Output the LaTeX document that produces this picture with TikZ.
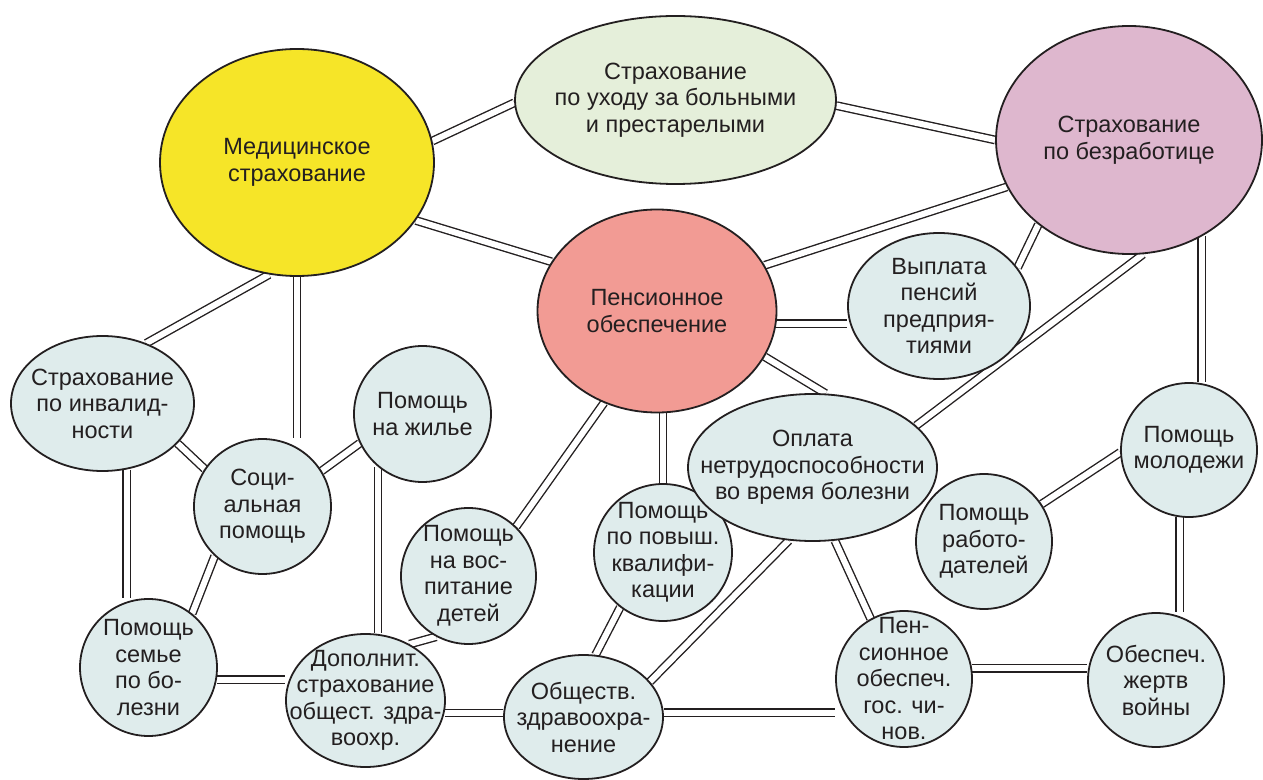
\documentclass[tikz,border=0pt]{standalone}
\usepackage{fontspec}
\setmainfont{Liberation Sans}
\usepackage{tikz}
\usetikzlibrary{shapes.geometric,backgrounds}
\usepackage{xcolor}
\definecolor{insyellow}{RGB}{246,229,40}
\definecolor{insgreen}{RGB}{229,239,218}
\definecolor{inspink}{RGB}{222,183,206}
\definecolor{inssalmon}{RGB}{242,155,148}
\definecolor{insgrey}{RGB}{223,236,236}
\definecolor{insink}{RGB}{35,31,32}
\tikzstyle{bubble} = [ellipse, draw=insink, line width=0.9pt, fill=insgrey, inner sep=0pt]
\tikzstyle{link} = [draw=insink, line width=0.7pt, double=white, double distance=3.0pt]
\tikzstyle{every label} = [align=center, text=insink, inner sep=0pt, font=\fontsize{11.75}{13.25}\selectfont]
\tikzset{dims/.style 2 args={minimum width=#1*0.5pt, minimum height=#2*0.5pt}}

\begin{document}
\begin{tikzpicture}[x=0.5pt, y=-0.5pt]
\useasboundingbox (0,0) rectangle (1263,780);

% Main insurances
\node[bubble, fill=insyellow, dims={274}{227}, label=center:{Медицинское\\страхование}] (med) at (297,162.5) {};
\node[bubble, fill=insgreen, dims={321}{168}, label=center:{Страхование\\по уходу за больными\\и престарелыми}] (care) at (675.5,100) {};
\node[bubble, fill=inspink, dims={266}{228}, label=center:{Страхование\\по безработице}] (unemp) at (1129,140) {};
\node[bubble, fill=inssalmon, dims={239}{203}, label=center:{Пенсионное\\обеспечение}] (pens) at (657,311) {};

% Middle row
\node[bubble, dims={182}{146}, label=center:{Выплата\\пенсий\\предприя-\\тиями}] (vypl) at (939,306) {};
\node[bubble, dims={183}{135}, label=center:{Страхование\\по инвалид-\\ности}] (invalid) at (102.5,403.5) {};
\node[bubble, dims={137}{135}, label=center:{Соци-\\альная\\помощь}] (social) at (262.5,506.5) {};
\node[bubble, dims={137}{136}, label=center:{Помощь\\на жилье}] (housing) at (422.5,414) {};
\node[bubble, dims={135}{136}, label=center:{Помощь\\на вос-\\питание\\детей}] (vospit) at (468.5,576) {};
\node[bubble, dims={138}{137}, label=center:{Помощь\\по повыш.\\квалифи-\\кации}] (kvalif) at (663,552.5) {};
\node[bubble, dims={249}{147}, label=center:{Оплата\\нетрудоспособности\\во время болезни}] (oplata) at (812.5,467.5) {};
\node[bubble, dims={136}{134}, label=center:{Помощь\\молодежи}] (youth) at (1189,450) {};
\node[bubble, dims={136}{135}, label=center:{Помощь\\работо-\\дателей}] (employers) at (984,541.5) {};

% Bottom row
\node[bubble, dims={137}{137}, label=center:{Помощь\\семье\\по бо-\\лезни}] (family) at (148.5,667.5) {};
\node[bubble, dims={159}{133}, label=center:{Дополнит.\\страхование\\общест. здра-\\воохр.}] (dopoln) at (365.5,700.5) {};
\node[bubble, dims={159}{124}, label=center:{Обществ.\\здравоохра-\\нение}] (obshch) at (583.5,717) {};
\node[bubble, dims={136}{136}, label=center:{Пен-\\сионное\\обеспеч.\\гос. чи-\\нов.}] (chinov) at (904,679) {};
\node[bubble, dims={136}{134}, label=center:{Обеспеч.\\жертв\\войны}] (victims) at (1156,680) {};

\begin{pgfonlayer}{background}
% Slanted links
\foreach \a/\b in {med.9/care.181, care.-2/unemp.180, med.-26/pens.155, pens.23/unemp.201,
    pens.-23/oplata.80, pens.240/vospit.46, med.256/invalid.54, invalid.-28/social.147,
    social.226/family.51, social.31/housing.205, dopoln.52/vospit.242, kvalif.232/obshch.79,
    oplata.252/obshch.28, oplata.-73/chinov.119, unemp.223/vypl.26, unemp.-83/oplata.22,
    youth.182/employers.33}
  \draw[link] (\a) -- (\b);

% Straight links
\draw[link] (med.south) -- (med.south |- social.north);
\draw[link] (invalid.-70) -- (invalid.-70 |- family.north);
\draw[link] (housing.230) -- (housing.230 |- dopoln.north);
\draw[link] (family.-10) -- (family.-10 -| dopoln.west);
\draw[link] (dopoln.-9) -- (dopoln.-9 -| obshch.west);
\draw[link] (obshch.3) -- (obshch.3 -| chinov.west);
\draw[link] (chinov.9) -- (chinov.9 -| victims.west);
\draw[link] (pens.-6) -- (pens.-6 -| vypl.west);
\draw[link] (kvalif.north |- pens.south) -- (kvalif.north);
\draw[link] (unemp.-53) -- (unemp.-53 |- youth.north);
\draw[link] (youth.262) -- (youth.262 |- victims.north);
\end{pgfonlayer}
\end{tikzpicture}
\end{document}
